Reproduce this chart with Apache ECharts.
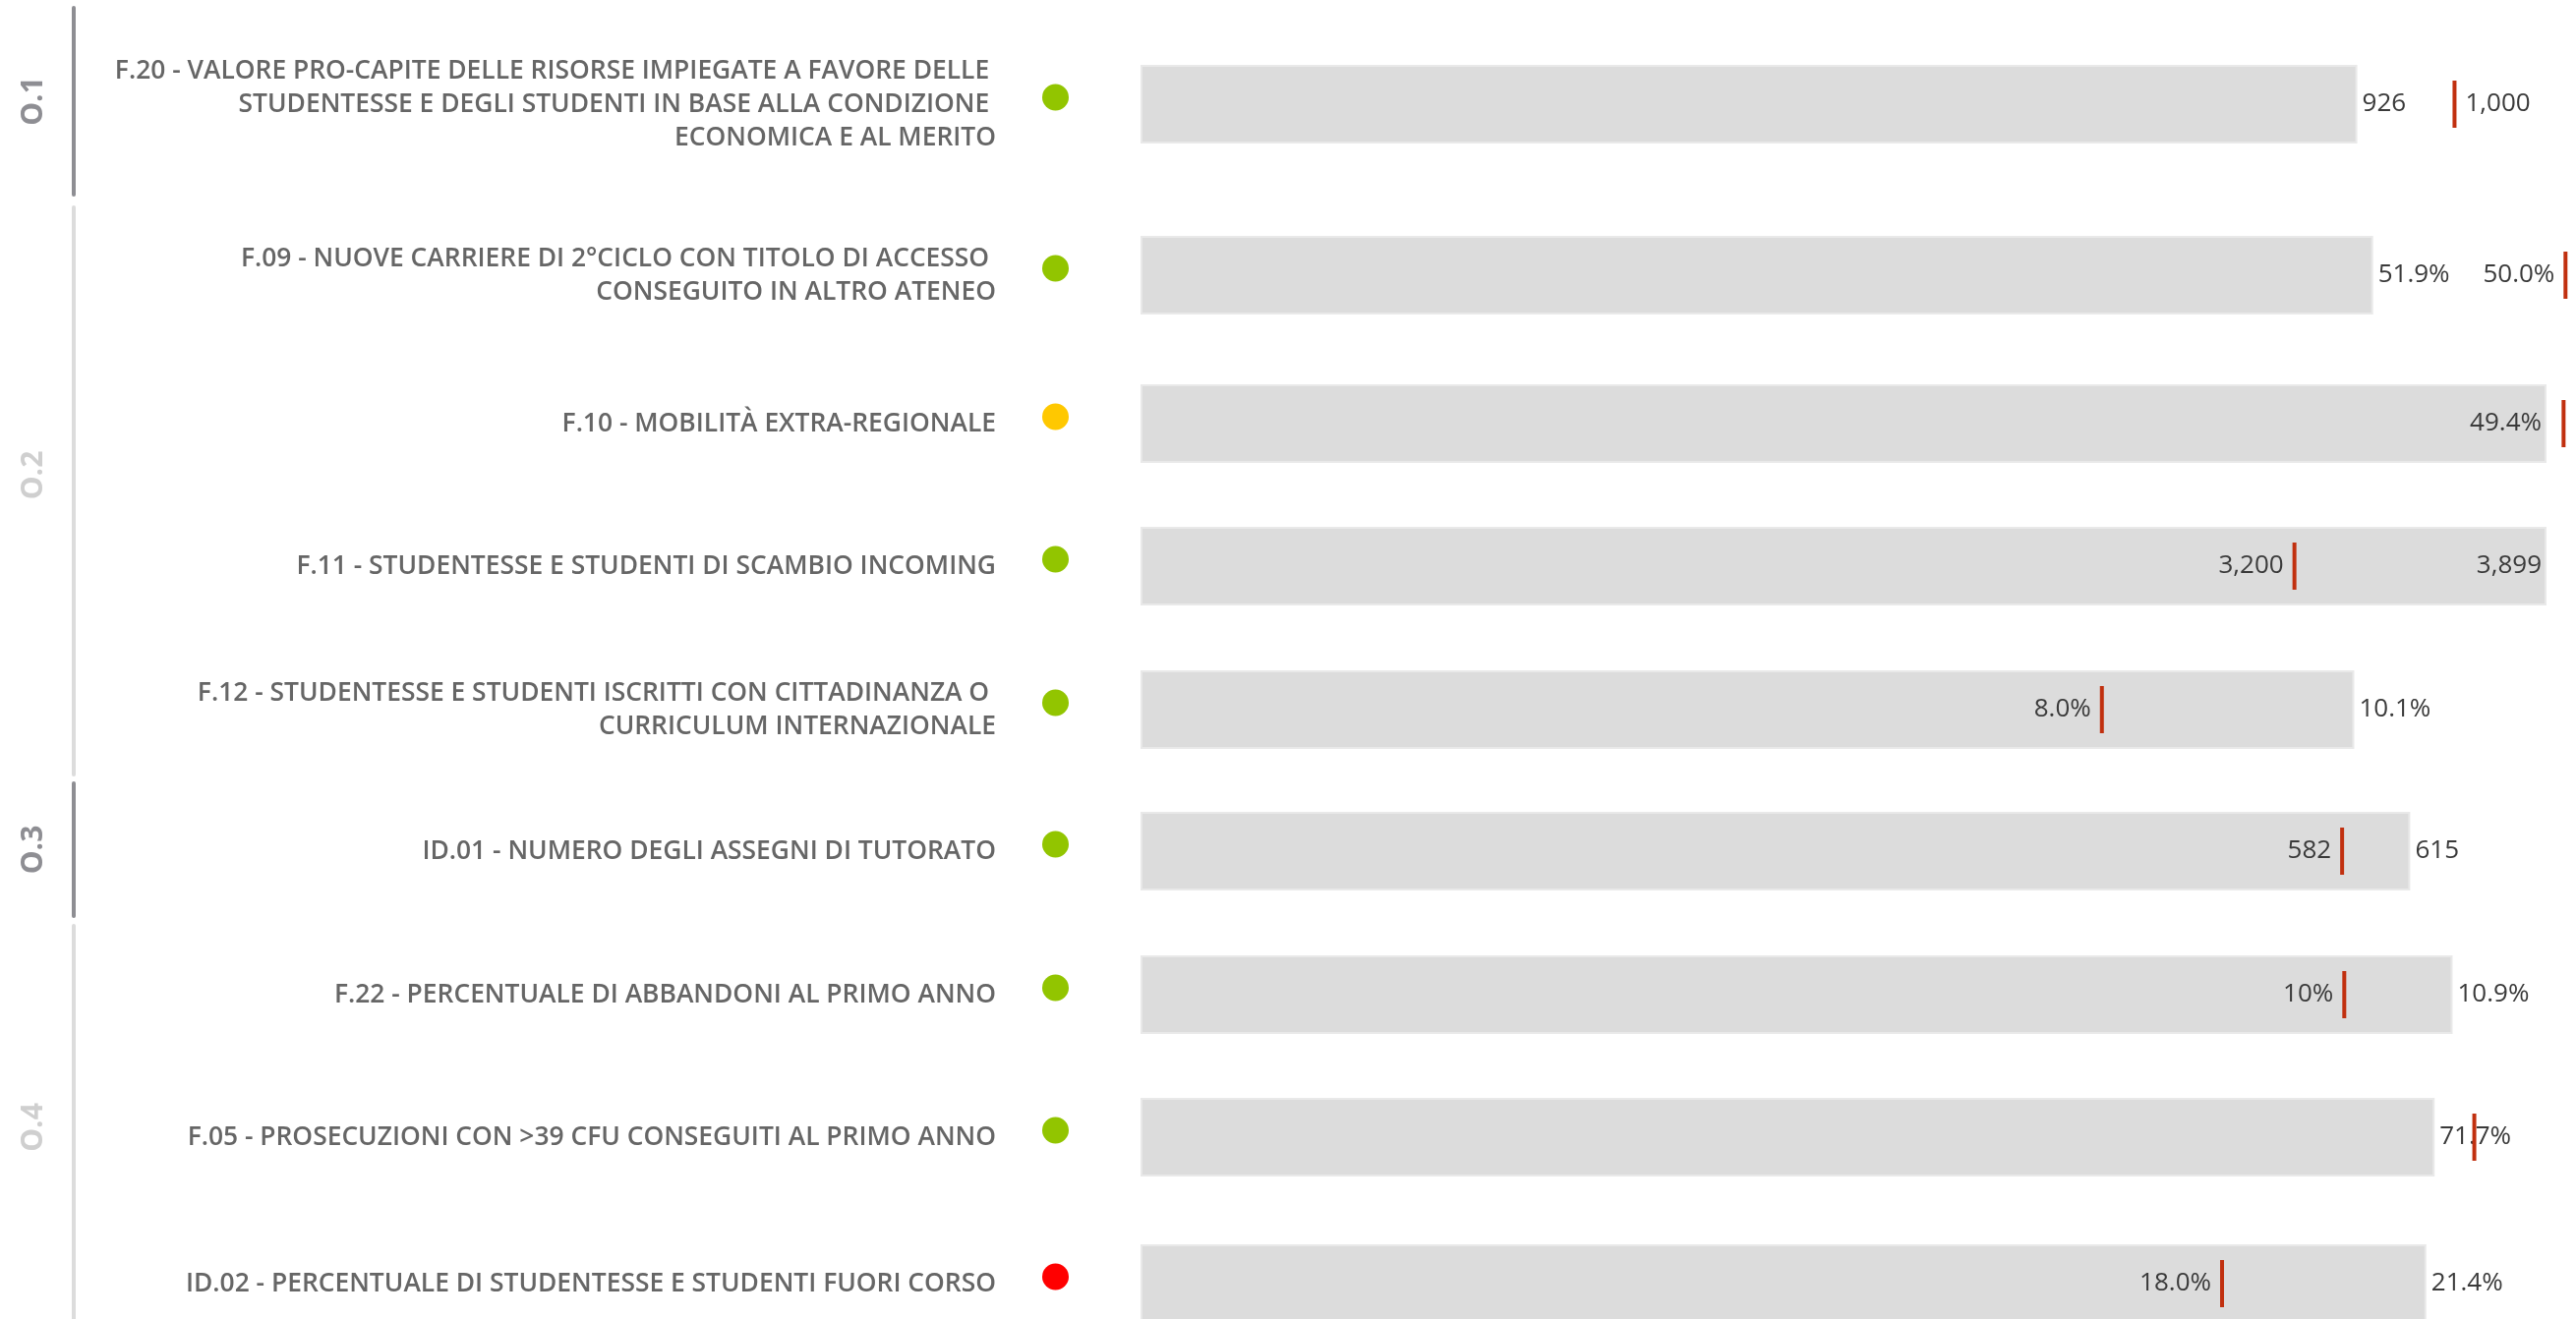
<!DOCTYPE html>
<html>
<head>
<meta charset="utf-8">
<script src="https://cdn.jsdelivr.net/npm/echarts@6/dist/echarts.min.js"></script>
<style>
  html, body { margin: 0; padding: 0; background: #fff; }
  #main { width: 2620px; height: 1342px; }
</style>
</head>
<body>
<div id="main"></div>
<script>
// indicatori
var categories = [
  'F.20 - VALORE PRO-CAPITE DELLE RISORSE IMPIEGATE A FAVORE DELLE \nSTUDENTESSE E DEGLI STUDENTI IN BASE ALLA CONDIZIONE \nECONOMICA E AL MERITO',
  'F.09 - NUOVE CARRIERE DI 2°CICLO CON TITOLO DI ACCESSO \nCONSEGUITO IN ALTRO ATENEO',
  'F.10 - MOBILITÀ EXTRA-REGIONALE',
  'F.11 - STUDENTESSE E STUDENTI DI SCAMBIO INCOMING',
  'F.12 - STUDENTESSE E STUDENTI ISCRITTI CON CITTADINANZA O \nCURRICULUM INTERNAZIONALE',
  'ID.01 - NUMERO DEGLI ASSEGNI DI TUTORATO',
  'F.22 - PERCENTUALE DI ABBANDONI AL PRIMO ANNO',
  'F.05 - PROSECUZIONI CON >39 CFU CONSEGUITI AL PRIMO ANNO',
  'ID.02 - PERCENTUALE DI STUDENTESSE E STUDENTI FUORI CORSO'
];
var actual = [926, 51.9, 49.4, 3899, 10.1, 615, 10.9, 71.7, 21.4];
var target = [1000, 60, 50, 3200, 8.0, 582, 10, 73.9, 18.0];
var axisMax = [1070, 59.2, 49.4, 3899, 11.7, 681, 11.68, 77.9, 23.4];
var actualLabels = ['926', '51.9%', '49.4%', '3,899', '10.1%', '615', '10.9%', '71.7%', '21.4%'];
var targetLabels = ['1,000', '50.0%', '', '3,200', '8.0%', '582', '10%', '', '18.0%'];
var semaforo = ['verde', 'verde', 'giallo', 'verde', 'verde', 'verde', 'verde', 'verde', 'rosso'];

// obiettivi
var groups = ['O.1', 'O.2', 'O.3', 'O.4'];

// layout e stili
var semaforoColor = { verde: '#92c500', giallo: '#ffc800', rosso: '#ff0000' };
var rowCenter = [106, 280, 431, 576, 722, 866, 1012, 1157, 1306];
var actualSide = ['right', 'right', 'insideRight', 'insideRight', 'right', 'right', 'right', 'right', 'right'];
var targetSide = ['right', 'left', 'left', 'left', 'left', 'left', 'left', 'left', 'left'];
var groupSpan = [[8, 198], [211, 788], [797, 932], [942, 1352]];
var groupDark = [true, false, true, false];
var groupShift = [0, 32, 0, 0];

var myChart = echarts.init(document.getElementById('main'));

var grid = [], xAxis = [], yAxis = [], series = [];
var n = categories.length;

for (var i = 0; i < n; i++) {
  grid.push({ left: 1160, width: 1430, top: rowCenter[i] - 40, height: 80, outerBoundsMode: 'none', containLabel: false });
  xAxis.push({ type: 'value', gridIndex: i, min: 0, max: axisMax[i], show: false });
  yAxis.push({
    type: 'category', gridIndex: i, data: [categories[i]], position: 'left',
    axisLine: { show: false }, axisTick: { show: false }, splitLine: { show: false },
    axisLabel: {
      margin: 147, fontFamily: 'Open Sans', fontWeight: 600, fontSize: 26.4,
      color: '#666', lineHeight: 34, align: 'right'
    }
  });
  series.push({
    type: 'bar', xAxisIndex: i, yAxisIndex: i,
    data: [actual[i]], barWidth: 80, silent: true,
    itemStyle: { color: '#dcdcdc', borderColor: '#e9e9e9', borderWidth: 2 },
    label: {
      show: true, position: actualSide[i], distance: 5,
      formatter: actualLabels[i],
      fontFamily: 'Open Sans', fontSize: 26, color: '#3a3a3a'
    }
  });
  series.push({
    type: 'scatter', xAxisIndex: i, yAxisIndex: i, z: 10,
    data: [[target[i], 0]], symbol: 'rect', symbolSize: [4, 48], clip: false,
    itemStyle: { color: '#c1300f', opacity: 1 },
    label: {
      show: targetLabels[i] !== '', position: targetSide[i], distance: 9,
      formatter: targetLabels[i],
      fontFamily: 'Open Sans', fontSize: 26, color: '#3a3a3a'
    }
  });
}

// semafori
for (var j = 0; j < n; j++) {
  var di = grid.length;
  grid.push({ left: 1060, width: 27, top: rowCenter[j] - 47, height: 80, outerBoundsMode: 'none', containLabel: false });
  xAxis.push({ type: 'category', gridIndex: di, data: ['stato'], show: false });
  yAxis.push({ type: 'category', gridIndex: di, data: [categories[j]], show: false });
  series.push({
    type: 'scatter', xAxisIndex: di, yAxisIndex: di, symbolSize: 27, silent: true,
    data: [['stato', categories[j]]],
    itemStyle: { color: semaforoColor[semaforo[j]], opacity: 1 }
  });
}

// linee verticali degli obiettivi
for (var k = 0; k < groups.length; k++) {
  var gi = grid.length;
  var c = groupDark[k] ? '#8e8e93' : '#dcdcdc';
  var tc = groupDark[k] ? '#8e8e93' : '#cfcfcf';
  grid.push({ left: 75, width: 1, top: groupSpan[k][0], height: groupSpan[k][1] - groupSpan[k][0], outerBoundsMode: 'none', containLabel: false });
  xAxis.push({ type: 'value', gridIndex: gi, show: false });
  yAxis.push({
    type: 'value', gridIndex: gi, min: 0, max: 1, position: 'left',
    name: groups[k], nameLocation: 'middle', nameRotate: 90, nameGap: 26,
    nameTextStyle: {
      fontFamily: 'Open Sans', fontWeight: 700, fontSize: 30, color: tc,
      padding: [0, 0, 0, groupShift[k]]
    },
    axisLine: { show: true, lineStyle: { color: c, width: 4 } },
    axisTick: { show: false }, axisLabel: { show: false }, splitLine: { show: false }
  });
}

option = {
  animation: false,
  backgroundColor: '#fff',
  grid: grid,
  xAxis: xAxis,
  yAxis: yAxis,
  series: series
};

myChart.setOption(option);
</script>
</body>
</html>
